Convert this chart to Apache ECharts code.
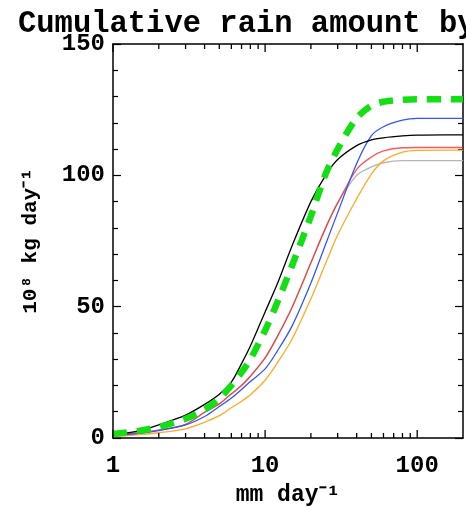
<!DOCTYPE html>
<html>
<head>
<meta charset="utf-8">
<script src="https://cdn.jsdelivr.net/npm/echarts@6/dist/echarts.min.js"></script>
<style>
html,body{margin:0;padding:0;background:#fff;}
#chart{width:466px;height:507px;}
</style>
</head>
<body>
<div id="chart"></div>
<script>
// x values (mm day^-1), log axis
const rainRate = [1, 1.5, 2, 3, 4, 5, 6, 7, 8, 10, 12, 15, 20, 25, 30, 40, 50, 60, 80, 100, 150, 200];
// cumulative rain amount (10^8 kg day^-1)
const grayVals   = [1, 2, 3, 5.2, 9.8, 13, 16.8, 20, 23.5, 30.5, 38.5, 49.6, 66.7, 80, 89.5, 100, 103.2, 104.8, 105.6, 105.6, 105.6, 105.6];
const redVals    = [1, 2, 3, 5.2, 9.8, 13, 16.8, 20, 23.5, 30.5, 38.5, 49.6, 66.7, 80, 89.5, 102.3, 107, 109.3, 110.5, 110.6, 110.6, 110.6];
const orangeVals = [0.5, 1.3, 2, 3.5, 6, 8.5, 11.5, 14, 16.5, 22, 28.5, 37.5, 53, 66.5, 77.3, 91.1, 100.5, 105.5, 108.8, 109.5, 109.6, 109.6];
const blueVals   = [0.8, 1.8, 2.8, 5, 8.2, 12, 15.2, 18.5, 21.5, 26.3, 33, 42.5, 59, 73.8, 85.8, 104.5, 115.1, 118.5, 121, 121.7, 121.7, 121.7];
const blackVals  = [1, 2.8, 5, 8.7, 12.8, 16.7, 21.3, 28.3, 35, 48, 58.5, 73, 90, 100, 106, 111.3, 113.5, 114.3, 115, 115.3, 115.4, 115.4];
const greenVals  = [1.5, 2.8, 4.2, 7.3, 10.8, 15, 20, 25, 30, 41, 51.5, 65.5, 84.5, 100.5, 110, 121.8, 126.5, 128, 128.8, 129, 129, 129];
// tick positions for the log axis
const majorXTicks = [1, 10, 100];
const minorXTicks = [2, 3, 4, 5, 6, 7, 8, 9, 20, 30, 40, 50, 60, 70, 80, 90];
const xMin = 1, xMax = 200, yMin = 0, yMax = 150;

const FONT = 'Liberation Mono';
const CHART_H = 507, GRID_TOP = 44, GRID_BOTTOM = 69;
const unitsPerPx = (yMax - yMin) / (CHART_H - GRID_TOP - GRID_BOTTOM);

function pairs(vals){ return rainRate.map((x,i)=>[x, vals[i]]); }
function lineSeries(name, vals, color, width, extra){
  return Object.assign({
    name, type:'line', data: pairs(vals), showSymbol:false, symbol:'none',
    smooth:0.3, xAxisIndex:0, yAxisIndex:0,
    lineStyle:{color, width}, itemStyle:{color}, z:3
  }, extra||{});
}
// tick marks as short vertical segments (broken by '-' gaps), pointing into the plot
function tickSeries(vals, lenPx){
  const d = lenPx * unitsPerPx;
  const data = [];
  vals.forEach(v=>{
    data.push([v, yMin], [v, yMin + d], [v, '-']);
    data.push([v, yMax], [v, yMax - d], [v, '-']);
  });
  return {
    type:'line', xAxisIndex:0, yAxisIndex:0, clip:false, silent:true, z:10,
    data, showSymbol:false, symbol:'none', connectNulls:false, smooth:false,
    lineStyle:{color:'#000', width:1.3}, emphasis:{disabled:true}
  };
}

const chart = echarts.init(document.getElementById('chart'), null, {renderer:'canvas'});
const option = {
  animation:false,
  backgroundColor:'#fff',
  title:{
    text:'Cumulative rain amount by',
    left:13, top:4,
    textStyle:{fontFamily:FONT, fontWeight:'bold', fontSize:30.5, color:'#000'}
  },
  grid:{left:113, right:3, top:GRID_TOP, bottom:GRID_BOTTOM, containLabel:false, outerBoundsMode:'none'},
  xAxis:[
    {type:'log', logBase:10, min:xMin, max:xMax, position:'bottom',
     name:'mm day⁻¹', nameLocation:'middle', nameGap:46,
     nameTextStyle:{fontFamily:FONT, fontWeight:'bold', fontSize:23, color:'#000'},
     axisLine:{show:true, onZero:false, lineStyle:{color:'#000', width:1.5}},
     axisTick:{show:false},
     minorTick:{show:false},
     axisLabel:{show:true, showMaxLabel:false, margin:16, fontFamily:FONT, fontWeight:'bold', fontSize:24, color:'#000',
       formatter:function(v){ return (v===1||v===10||v===100) ? String(v) : ''; }},
     splitLine:{show:false}},
    {type:'log', logBase:10, min:xMin, max:xMax, position:'top',
     axisLine:{show:true, onZero:false, lineStyle:{color:'#000', width:1.5}},
     axisTick:{show:false},
     minorTick:{show:false},
     axisLabel:{show:false}, splitLine:{show:false}}
  ],
  yAxis:[
    {type:'value', min:yMin, max:yMax, interval:50, position:'left',
     name:'10⁸ kg day⁻¹', nameLocation:'middle', nameGap:72, nameRotate:90,
     nameTextStyle:{fontFamily:FONT, fontWeight:'bold', fontSize:21, color:'#000'},
     axisLine:{show:true, onZero:false, lineStyle:{color:'#000', width:1.5}},
     axisTick:{show:true, inside:true, length:8, lineStyle:{color:'#000', width:1.2}},
     minorTick:{show:true, splitNumber:5, length:5, lineStyle:{color:'#000', width:1.2}},
     axisLabel:{show:true, margin:8, fontFamily:FONT, fontWeight:'bold', fontSize:24, color:'#000'},
     splitLine:{show:false}},
    {type:'value', min:yMin, max:yMax, interval:50, position:'right',
     axisLine:{show:true, onZero:false, lineStyle:{color:'#000', width:1.5}},
     axisTick:{show:true, inside:true, length:8, lineStyle:{color:'#000', width:1.2}},
     minorTick:{show:true, splitNumber:5, length:5, lineStyle:{color:'#000', width:1.2}},
     axisLabel:{show:false}, splitLine:{show:false}}
  ],
  series:[
    lineSeries('gray', grayVals, '#b5b5b5', 1.4),
    lineSeries('red', redVals, 'rgba(255,30,30,0.75)', 1.3),
    lineSeries('orange', orangeVals, '#ffaa22', 1.3),
    lineSeries('blue', blueVals, '#3355ff', 1.3),
    lineSeries('black', blackVals, '#000000', 1.3),
    lineSeries('green', greenVals, '#12e012', 6.5, {lineStyle:{color:'#12e012', width:6.5, type:[14,10], cap:'butt'}, z:4}),
    tickSeries(minorXTicks, 5),
    tickSeries(majorXTicks, 8)
  ]
};
chart.setOption(option);
</script>
</body>
</html>
